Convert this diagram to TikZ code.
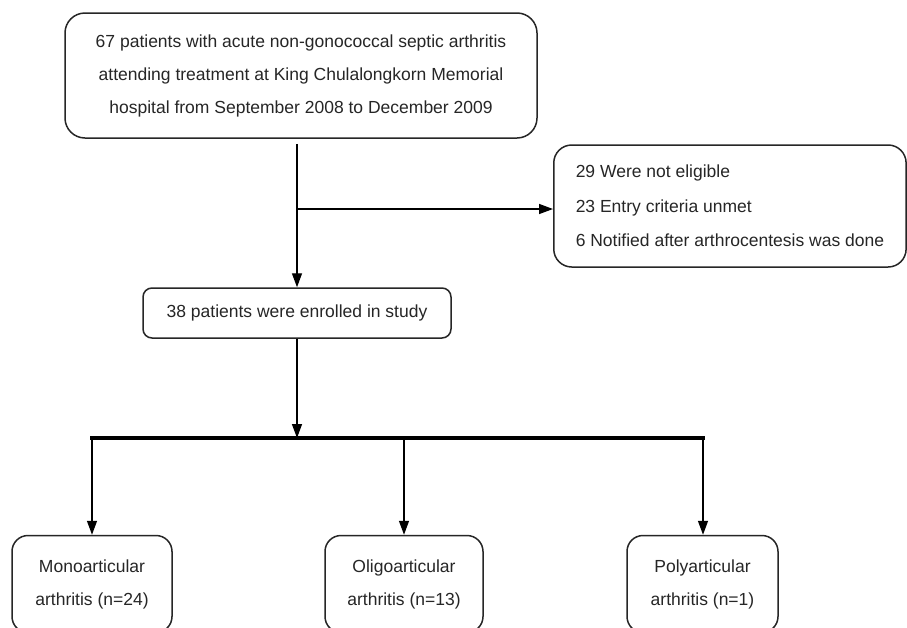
\documentclass[tikz,border=0pt]{standalone}
\usepackage{fontspec}
\setmainfont{Liberation Sans}
\usetikzlibrary{arrows.meta}
\begin{document}
\begin{tikzpicture}[x=1pt,y=-1pt,
  box/.style={draw=black!85, line width=1.5pt, rounded corners=#1, text=black!85,
     font=\fontsize{17.5}{33}\selectfont, align=center, inner sep=0pt},
  box/.default=18pt,
  arr/.style={draw=black, line width=1.4pt, -{Triangle[length=14pt,width=10pt]}},
  bar/.style={draw=black, line width=3.2pt}]
\useasboundingbox (0,0) rectangle (907,627);
\clip (0,0) rectangle (907,627);
\fill[white] (0,0) rectangle (907,627);

\node[box=20pt, minimum width=472pt, minimum height=125pt] (top) at (301,75.5)
  {67 patients with acute non-gonococcal septic arthritis\\
   attending treatment at King Chulalongkorn Memorial\\
   hospital from September 2008 to December 2009};

\node[box, anchor=west, align=left, inner xsep=22pt,
  minimum height=122pt, font=\fontsize{17.5}{34.5}\selectfont] (excl) at (553,206)
  {29 Were not eligible\\
   23 Entry criteria unmet\\
   6 Notified after arthrocentesis was done};

\node[box=9pt, minimum width=308pt, minimum height=50pt] (enr) at (297,313)
  {38 patients were enrolled in study};

\node[box=16pt, minimum width=160pt, minimum height=97pt] (mono) at (92,584)
  {Monoarticular\\arthritis (n=24)};
\node[box=16pt, minimum width=158pt, minimum height=97pt] (oligo) at (404,584)
  {Oligoarticular\\arthritis (n=13)};
\node[box=16pt, minimum width=151pt, minimum height=97pt] (poly) at (702.5,584)
  {Polyarticular\\arthritis (n=1)};

\coordinate (br) at (297,209);
\coordinate (barc) at (297,438);
\coordinate (barL) at (92,438);
\coordinate (barR) at (703,438);

\draw[arr, shorten <=5pt] (top.south -| enr.north) -- (enr.north);
\draw[arr] (br) -- (br -| excl.west);
\draw[arr] (enr.south) -- (barc);
\draw[bar] ([xshift=-1.6pt]barL) -- ([xshift=1.6pt]barR);
\draw[arr] (barL) -- (mono.north);
\draw[arr] (oligo.north |- barc) -- (oligo.north);
\draw[arr] (barR) -- (barR |- poly.north);
\end{tikzpicture}
\end{document}
